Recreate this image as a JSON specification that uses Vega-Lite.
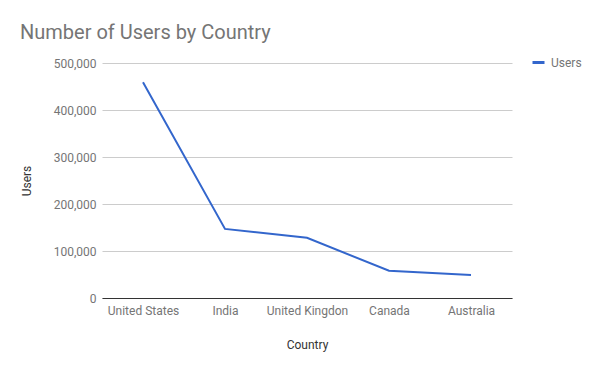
{
  "$schema": "https://vega.github.io/schema/vega-lite/v6.json",
  "autosize": "none",
  "width": 410,
  "height": 235,
  "padding": {"left": 102, "top": 63, "right": 88, "bottom": 73},
  "background": "white",
  "config": {"view": {"stroke": null}},
  "title": {
    "text": "Number of Users by Country",
    "anchor": "start",
    "frame": "group",
    "dx": -82,
    "offset": 12,
    "font": "Roboto",
    "fontSize": 20,
    "fontWeight": "normal",
    "color": "#757575"
  },
  "data": {
    "values": [
      {"Country": "United States", "Users": 459000, "Series": "Users"},
      {"Country": "India", "Users": 147000, "Series": "Users"},
      {"Country": "United Kingdon", "Users": 128000, "Series": "Users"},
      {"Country": "Canada", "Users": 58000, "Series": "Users"},
      {"Country": "Australia", "Users": 49000, "Series": "Users"}
    ]
  },
  "mark": {"type": "line", "strokeWidth": 2},
  "encoding": {
    "x": {
      "field": "Country",
      "type": "nominal",
      "sort": null,
      "scale": {"type": "point", "padding": 0.5},
      "axis": {
        "title": "Country",
        "labelAngle": 0,
        "ticks": false,
        "grid": false,
        "domain": true,
        "domainColor": "#333333",
        "domainWidth": 1,
        "labelFont": "Roboto",
        "labelFontSize": 12,
        "labelColor": "#757575",
        "labelPadding": 7,
        "titleFont": "Roboto",
        "titleFontSize": 12,
        "titleFontWeight": "normal",
        "titleColor": "#333333",
        "titlePadding": 23
      }
    },
    "y": {
      "field": "Users",
      "type": "quantitative",
      "scale": {"domain": [0, 500000]},
      "axis": {
        "title": "Users",
        "values": [0, 100000, 200000, 300000, 400000, 500000],
        "format": ",d",
        "ticks": false,
        "domain": false,
        "grid": true,
        "gridColor": "#cccccc",
        "labelFont": "Roboto",
        "labelFontSize": 12,
        "labelColor": "#757575",
        "labelPadding": 6,
        "titleFont": "Roboto",
        "titleFontSize": 12,
        "titleFontWeight": "normal",
        "titleColor": "#333333",
        "titlePadding": 20
      }
    },
    "color": {
      "field": "Series",
      "type": "nominal",
      "scale": {"range": ["#3366cc"]},
      "legend": {
        "title": null,
        "orient": "none",
        "legendX": 429,
        "legendY": -8,
        "symbolType": "stroke",
        "symbolSize": 144,
        "symbolStrokeWidth": 3,
        "labelFont": "Roboto",
        "labelFontSize": 12,
        "labelColor": "#757575",
        "labelOffset": 5
      }
    }
  }
}
